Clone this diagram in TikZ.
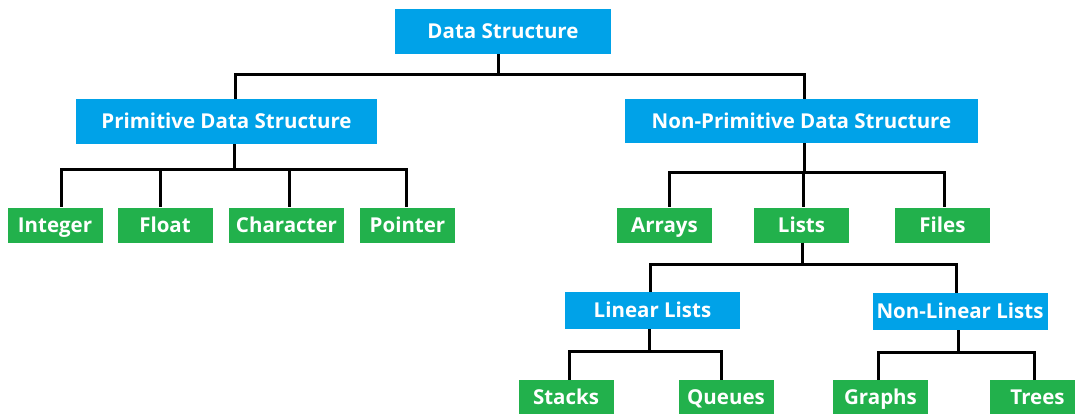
\documentclass[tikz,border=0pt]{standalone}
\usepackage{fontspec}
\setmainfont{Open Sans}
\definecolor{dsblue}{HTML}{00A2E8}
\definecolor{dsgreen}{HTML}{22B14C}

\begin{document}
\begin{tikzpicture}[x=1pt, y=-1pt,
        category/.style={rectangle, fill=dsblue, text=white, inner sep=0pt, text height=14.6pt, text depth=0pt, minimum height=45pt, font=\bfseries\fontsize{20.5}{24}\selectfont},
        leaf/.style={rectangle, fill=dsgreen, text=white, inner sep=0pt, text height=14.6pt, text depth=0pt, minimum width=95pt, minimum height=35pt, font=\bfseries\fontsize{20.5}{24}\selectfont},
        link/.style={draw, line width=3pt}]

        \useasboundingbox (0,0) rectangle (1075,414);
        \fill[white] (0,0) rectangle (1075,414);

        % Root and first level
        \node[category, minimum width=216pt] (ds) at (503,31.5) {Data Structure};
        \node[category, minimum width=301pt] (prim) at (226.5,121.5) {Primitive Data Structure};
        \node[category, minimum width=353pt, minimum height=44pt] (nprim) at (801.5,121) {Non-Primitive Data Structure};

        % Primitive types
        \node[leaf] (int) at (55,225) {Integer};
        \node[leaf] (flt) at (165,225) {Float};
        \node[leaf, minimum width=115pt] (chr) at (286.5,225) {Character};
        \node[leaf] (ptr) at (407.5,225) {Pointer};

        % Non-primitive types
        \node[leaf] (arr) at (664.5,225) {Arrays};
        \node[leaf] (lst) at (801.5,225) {Lists};
        \node[leaf] (fil) at (942.5,225) {Files};

        % Lists
        \node[category, minimum width=175pt, minimum height=37pt] (lin) at (652.5,310.5) {Linear Lists};
        \node[category, minimum width=175pt, minimum height=37pt] (nlin) at (960,311.5) {Non-Linear Lists};
        \node[leaf] (stk) at (566,397.5) {Stacks};
        \node[leaf] (que) at (726,397.5) {Queues};
        \node[leaf] (grp) at (880.5,397.5) {Graphs};
        \node[leaf] (tre) at (1037.5,397.5) {Trees};

        % Connectors
        \draw[link] ([xshift=-5pt]ds.south) -- ++(0,20.5) -| ([xshift=8.5pt]prim.north);
        \draw[link] ([xshift=-5pt]ds.south) -- ++(0,20.5) -| ([xshift=2.5pt]nprim.north);

        \draw[link] ([xshift=8pt]prim.south) -- ++(0,25) -| ([xshift=6pt]int.north);
        \draw[link] ([xshift=8pt]prim.south) -- ++(0,25) -| ([xshift=-4.5pt]flt.north);
        \draw[link] ([xshift=8pt]prim.south) -- ++(0,25) -| ([xshift=2.5pt]chr.north);
        \draw[link] ([xshift=8pt]prim.south) -- ++(0,25) -| ([xshift=-1.5pt]ptr.north);

        \draw[link] ([xshift=2.5pt]nprim.south) -- ++(0,29) -| ([xshift=4.5pt]arr.north);
        \draw[link] ([xshift=2.5pt]nprim.south) -- ++(0,29) -| ([xshift=2pt]lst.north);
        \draw[link] ([xshift=2.5pt]nprim.south) -- ++(0,29) -| ([xshift=1.5pt]fil.north);

        \draw[link] ([xshift=1pt]lst.south) -- ++(0,22) -| ([xshift=-2.5pt]lin.north);
        \draw[link] ([xshift=1pt]lst.south) -- ++(0,22) -| ([xshift=-4pt]nlin.north);

        \draw[link] ([xshift=-3.5pt]lin.south) -- ++(0,22) -| ([xshift=3pt]stk.north);
        \draw[link] ([xshift=-3.5pt]lin.south) -- ++(0,22) -| ([xshift=-5pt]que.north);

        \draw[link] ([xshift=-2pt]nlin.south) -- ++(0,22) -| ([xshift=-2.5pt]grp.north);
        \draw[link] ([xshift=-2pt]nlin.south) -- ++(0,22) -| ([xshift=-3.5pt]tre.north);

    \end{tikzpicture}
\end{document}
